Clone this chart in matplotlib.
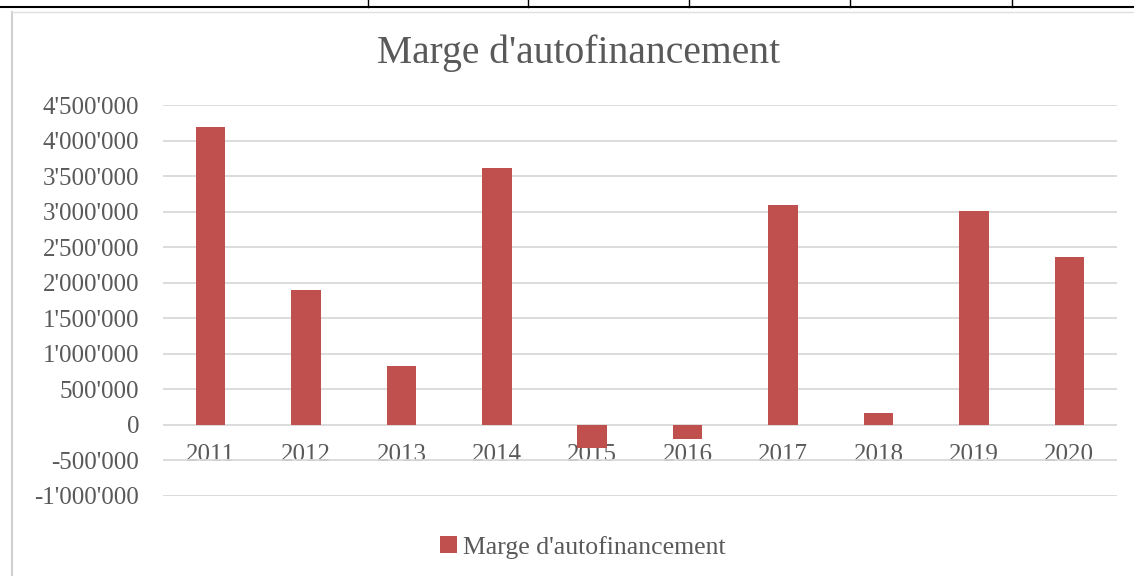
import matplotlib
matplotlib.use("Agg")
import matplotlib.pyplot as plt
from matplotlib.lines import Line2D
from matplotlib.patches import Patch
from matplotlib.ticker import FuncFormatter

years = ['2011', '2012', '2013', '2014', '2015', '2016', '2017', '2018', '2019', '2020']
marge = [4190000, 1900000, 830000, 3610000, -320000, -200000, 3090000, 170000, 3010000, 2360000]
series_name = "Marge d'autofinancement"

bar_color = '#C0504D'
text_color = '#595959'
grid_color = '#D9D9D9'

plt.rcParams['font.family'] = ['Liberation Serif', 'DejaVu Serif']

fig = plt.figure(figsize=(11.34, 5.76), dpi=100)
ax = fig.add_axes([0.1437, 0.1389, 0.8413, 0.6788])

x = range(len(years))
ax.bar(x, marge, width=0.31, color=bar_color, zorder=3)

ax.set_xlim(-0.5, len(years) - 0.5)
ax.set_ylim(-1000000, 4500000)
ax.set_yticks(range(-1000000, 4500001, 500000))

def fmt(v, pos):
    s = '{:,.0f}'.format(v).replace(',', "'")
    return s
ax.yaxis.set_major_formatter(FuncFormatter(fmt))
ax.tick_params(axis='y', length=0, labelsize=18, labelcolor=text_color, pad=17)
ax.grid(axis='y', color=grid_color, linewidth=1.3, zorder=0)

# year labels sit just under the zero line
ax.spines['bottom'].set_position(('data', 0))
ax.set_xticks(list(x))
ax.set_xticklabels(years)
ax.tick_params(axis='x', length=0, labelsize=18, labelcolor=text_color, pad=14)
for s in ['top', 'right', 'left', 'bottom']:
    ax.spines[s].set_visible(False)

fig.text(0.51, 0.907, series_name, ha='center', va='center', fontsize=28.5, color=text_color)

handle = Patch(facecolor=bar_color, edgecolor='none')
fig.legend([handle], [series_name], loc='center', bbox_to_anchor=(0.514, 0.05),
           frameon=False, fontsize=18.5, labelcolor=text_color,
           handlelength=0.65, handleheight=0.65, handletextpad=0.25)

# pieces of the spreadsheet around the chart
fig.add_artist(Line2D([0, 1], [1 - 7 / 576, 1 - 7 / 576], color='black', linewidth=1.5))
for px in [368, 528, 689, 850, 1012]:
    fig.add_artist(Line2D([px / 1134, px / 1134], [1 - 7 / 576, 1], color='black', linewidth=1))
fig.add_artist(Line2D([12 / 1134, 12 / 1134], [0, 1 - 12 / 576], color='#D0D0D0', linewidth=1.5))
fig.add_artist(Line2D([12 / 1134, 1], [1 - 12 / 576, 1 - 12 / 576], color='#E0E0E0', linewidth=1))

fig.savefig('out.png', dpi=100)
